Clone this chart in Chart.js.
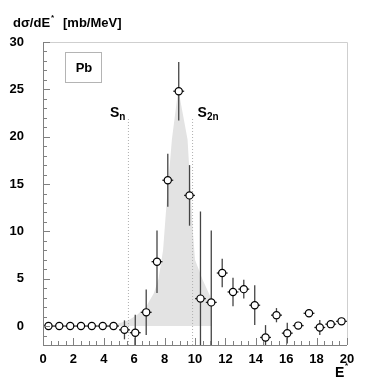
<!DOCTYPE html>
<html>
<head>
<meta charset="utf-8">
<script src="https://cdn.jsdelivr.net/npm/chart.js@4.4.0/dist/chart.umd.min.js"></script>
<style>
  body { margin: 0; background: #fff; }
  #wrap { width: 390px; height: 390px; }
</style>
</head>
<body>
<div id="wrap"><canvas id="xsChart" width="390" height="390"></canvas></div>
<script>
// measured points (bin centres, MeV)
const energy = [0.36, 1.07, 1.79, 2.5, 3.21, 3.93, 4.64, 5.36, 6.07, 6.79, 7.5, 8.21, 8.93, 9.64,
  10.36, 11.07, 11.79, 12.5, 13.21, 13.93, 14.64, 15.36, 16.07, 16.79, 17.5, 18.21, 18.93, 19.64];
const sigma = [0, 0, 0, 0, 0, 0, 0, -0.4, -0.7, 1.45, 6.8, 15.4, 24.8, 13.8,
  2.9, 2.5, 5.6, 3.6, 3.9, 2.2, -1.2, 1.15, -0.75, 0.05, 1.35, -0.15, 0.2, 0.5];
const sigmaErr = [0, 0, 0, 0, 0, 0, 0, 1.0, 1.9, 2.4, 3.3, 2.8, 3.1, 3.2,
  9.2, 7.6, 1.5, 1.5, 1.0, 2.1, 1.3, 0.75, 1.1, 0.3, 0.35, 0.8, 0.2, 0.3];
const binHalf = 0.357;

// shaded model curve
const modelE = [4.3, 5.0, 5.6, 6.2, 6.8, 7.3, 7.6, 7.9, 8.15, 8.48, 8.9, 9.51, 9.74, 9.85, 10.0, 10.5, 11.1, 11.1];
const modelSigma = [0, 0.3, 0.6, 1.2, 2.1, 3.5, 5, 8, 13.4, 19.7, 25, 19.7, 13.4, 10.2, 7, 4.9, 2.8, 0];

// neutron separation energies
const thresholds = [5.62, 9.84];
const thresholdNames = [['S', 'n'], ['S', '2n']];
const thresholdTop = 22;

const xTickValues = [0, 2, 4, 6, 8, 10, 12, 14, 16, 18, 20];
const yTickValues = [0, 5, 10, 15, 20, 25, 30];

const FONT = 'Liberation Sans, Arial, sans-serif';

const decorations = {
  id: 'decorations',
  beforeDatasetDraw(chart, args) {
    if (args.index !== 3) return;
    const ctx = chart.ctx;
    const xs = chart.scales.x, ys = chart.scales.y;
    const a = chart.chartArea;
    ctx.save();
    ctx.beginPath();
    ctx.rect(a.left, a.top, a.right - a.left, a.bottom - a.top);
    ctx.clip();
    ctx.lineWidth = 1.3;
    energy.forEach((e, i) => {
      const px = xs.getPixelForValue(e);
      const py = ys.getPixelForValue(sigma[i]);
      ctx.strokeStyle = '#222';
      ctx.beginPath();
      ctx.moveTo(xs.getPixelForValue(e - binHalf), py);
      ctx.lineTo(xs.getPixelForValue(e + binHalf), py);
      ctx.stroke();
      if (sigmaErr[i] > 0) {
        ctx.strokeStyle = '#444';
        ctx.beginPath();
        ctx.moveTo(px, ys.getPixelForValue(sigma[i] - sigmaErr[i]));
        ctx.lineTo(px, ys.getPixelForValue(sigma[i] + sigmaErr[i]));
        ctx.stroke();
      }
    });
    ctx.restore();
  },
  afterDraw(chart) {
    const ctx = chart.ctx;
    const xs = chart.scales.x, ys = chart.scales.y;
    const a = chart.chartArea;
    ctx.save();
    // frame
    ctx.lineWidth = 1;
    ctx.strokeStyle = '#cfcfcf';
    ctx.beginPath();
    ctx.moveTo(a.left, a.top + 0.5);
    ctx.lineTo(a.right + 0.5, a.top + 0.5);
    ctx.lineTo(a.right + 0.5, a.bottom);
    ctx.stroke();
    ctx.strokeStyle = '#808080';
    ctx.beginPath();
    ctx.moveTo(a.left + 0.5, a.top);
    ctx.lineTo(a.left + 0.5, a.bottom + 0.5);
    ctx.lineTo(a.right, a.bottom + 0.5);
    ctx.stroke();
    // inward ticks
    ctx.beginPath();
    for (let v = -2; v <= 30; v++) {
      const py = Math.round(ys.getPixelForValue(v)) + 0.5;
      const len = v % 5 === 0 ? 7 : 4;
      ctx.moveTo(a.left, py);
      ctx.lineTo(a.left + len, py);
    }
    for (let v = 0; v <= 20; v += 0.5) {
      const px = Math.round(xs.getPixelForValue(v)) + 0.5;
      const len = v % 2 === 0 ? 7 : 4;
      ctx.moveTo(px, a.bottom);
      ctx.lineTo(px, a.bottom - len);
    }
    ctx.stroke();

    ctx.fillStyle = '#000';
    ctx.textBaseline = 'alphabetic';
    // y title
    ctx.font = 'bold 13px ' + FONT;
    ctx.textAlign = 'left';
    let tx = 13;
    ctx.fillText('dσ/dE', tx, 27);
    tx += ctx.measureText('dσ/dE').width;
    ctx.font = 'bold 8px ' + FONT;
    ctx.fillText('*', tx + 1, 20);
    ctx.font = 'bold 13px ' + FONT;
    ctx.fillText('[mb/MeV]', 63, 27);
    // x title
    ctx.font = 'bold 14px ' + FONT;
    ctx.fillText('E', 335, 377);
    ctx.font = 'bold 8px ' + FONT;
    ctx.fillText('*', 345, 368);

    // Pb box
    ctx.fillStyle = '#fff';
    ctx.fillRect(65, 52, 36, 30);
    ctx.strokeStyle = '#b4b4b4';
    ctx.strokeRect(65.5, 52.5, 36, 30);
    ctx.fillStyle = '#000';
    ctx.font = 'bold 13px ' + FONT;
    ctx.textAlign = 'center';
    ctx.fillText('Pb', 84, 72);

    // threshold labels
    thresholds.forEach((t, i) => {
      const px = xs.getPixelForValue(t);
      const [main, sub] = thresholdNames[i];
      ctx.font = 'bold 14px ' + FONT;
      const wMain = ctx.measureText(main).width;
      ctx.font = 'bold 10px ' + FONT;
      const wSub = ctx.measureText(sub).width;
      const left = i === 0 ? px - 3 - wMain - wSub : px + 5;
      ctx.textAlign = 'left';
      ctx.font = 'bold 14px ' + FONT;
      ctx.fillText(main, left, 117);
      ctx.font = 'bold 10px ' + FONT;
      ctx.fillText(sub, left + wMain, 120);
    });
    ctx.restore();
  }
};

const ctx = document.getElementById('xsChart').getContext('2d');
new Chart(ctx, {
  type: 'line',
  data: {
    datasets: [
      {
        data: modelE.map((e, i) => ({ x: e, y: modelSigma[i] })),
        fill: 'origin',
        backgroundColor: '#e3e3e3',
        borderWidth: 0,
        pointRadius: 0,
        tension: 0,
        order: 3
      },
      {
        data: [{ x: thresholds[0], y: -2 }, { x: thresholds[0], y: thresholdTop }],
        borderColor: '#b0b0b0',
        borderWidth: 1,
        borderDash: [1, 2],
        pointRadius: 0,
        order: 2
      },
      {
        data: [{ x: thresholds[1], y: -2 }, { x: thresholds[1], y: thresholdTop }],
        borderColor: '#b0b0b0',
        borderWidth: 1,
        borderDash: [1, 2],
        pointRadius: 0,
        order: 2
      },
      {
        data: energy.map((e, i) => ({ x: e, y: sigma[i] })),
        showLine: false,
        pointRadius: 3.6,
        pointBackgroundColor: '#fff',
        pointBorderColor: '#000',
        pointBorderWidth: 1.2,
        order: 0
      }
    ]
  },
  options: {
    responsive: false,
    animation: false,
    layout: { padding: { top: 42, right: 43, left: 0, bottom: 0 } },
    plugins: { legend: { display: false }, tooltip: { enabled: false } },
    scales: {
      x: {
        type: 'linear',
        min: 0,
        max: 20,
        afterBuildTicks: s => { s.ticks = xTickValues.map(v => ({ value: v })); },
        afterFit: s => { s.height = 45; },
        grid: { display: false, drawTicks: false },
        border: { display: false },
        ticks: { padding: 7, color: '#000', font: { family: FONT, size: 13, weight: 'bold' }, maxRotation: 0 }
      },
      y: {
        type: 'linear',
        min: -2,
        max: 30,
        afterBuildTicks: s => { s.ticks = yTickValues.map(v => ({ value: v })); },
        afterFit: s => { s.width = 43; },
        grid: { display: false, drawTicks: false },
        border: { display: false },
        ticks: { padding: 19, color: '#000', font: { family: FONT, size: 13, weight: 'bold' } }
      }
    }
  },
  plugins: [decorations]
});
</script>
</body>
</html>
